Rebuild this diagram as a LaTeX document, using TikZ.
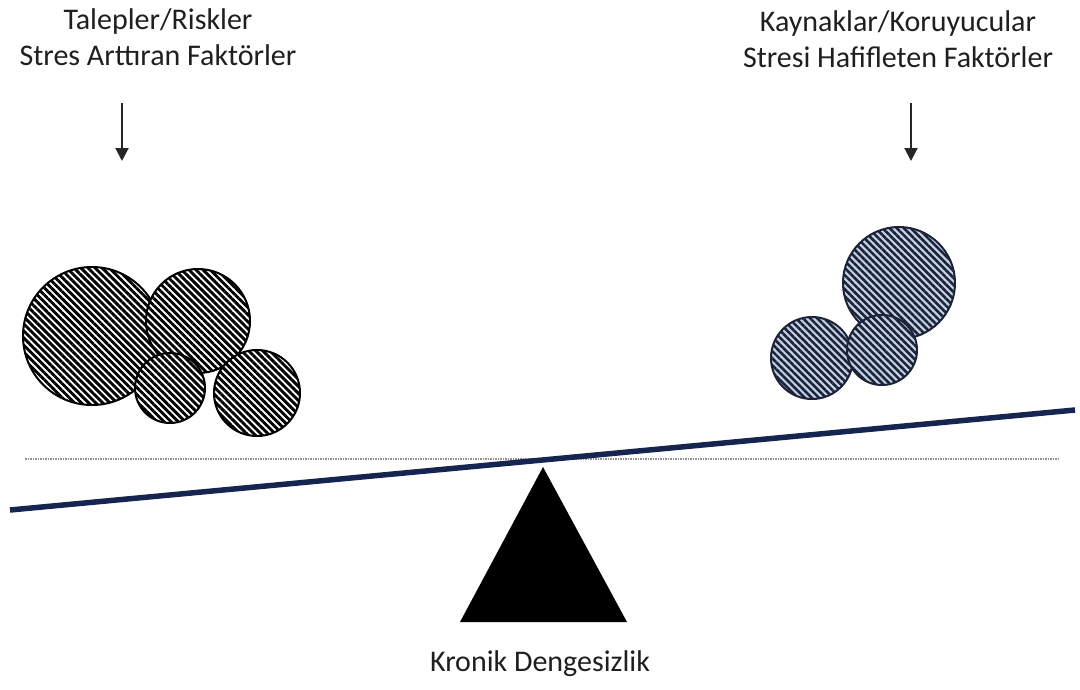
\documentclass[tikz,border=0pt]{standalone}
\usepackage{fontspec}
\setmainfont{Carlito}
\usetikzlibrary{patterns.meta,arrows.meta}
\definecolor{beamblue}{RGB}{22,36,80}
\definecolor{hatchnavy}{RGB}{28,34,55}
\definecolor{hatchbg}{RGB}{196,210,230}
\begin{document}
\begin{tikzpicture}[x=1pt,y=-1pt,
  label/.style={font=\fontsize{30}{35.5}\selectfont, align=center, text=black!88, inner sep=0pt},
  darkball/.style={draw=black, line width=2pt, preaction={fill=white},
    pattern={Lines[angle=-45,distance=5pt,line width=2.9pt]}, pattern color=black},
  lightball/.style={draw=hatchnavy, line width=2pt, preaction={fill=hatchbg},
    pattern={Lines[angle=-45,distance=5pt,line width=2.6pt]}, pattern color=hatchnavy},
  downarrow/.style={draw=black!85, line width=2pt, -{Triangle[length=13pt,width=13pt]}}]
\useasboundingbox (0,0) rectangle (1080,689);

% headings
\node[label] (demands) at (158,37) {Talepler/Riskler\\Stres Arttıran Faktörler};
\node[label] (resources) at (898,39) {Kaynaklar/Koruyucular\\Stresi Hafifleten Faktörler};

% arrows pointing down onto the loads
\coordinate (la1) at (122,103);
\coordinate (la2) at (122,161);
\coordinate (ra1) at (911,103);
\coordinate (ra2) at (911,161);
\draw[downarrow] (la1) -- (la2);
\draw[downarrow] (ra1) -- (ra2);

% stress load (left)
\draw[darkball] (92,336) circle (69);
\draw[darkball] (198,321) circle (52);
\draw[darkball] (170,388) circle (35);
\draw[darkball] (257,393) circle (43);

% protective load (right)
\draw[lightball] (899,283) circle (56);
\draw[lightball] (812,358) circle (41);
\draw[lightball] (882,350) circle (35);

% level reference line
\coordinate (lvl1) at (25,459);
\coordinate (lvl2) at (1060,459);
\draw[gray!85, line width=2.2pt, dash pattern=on 1.5pt off 1pt] (lvl1) -- (lvl2);

% tilted beam
\coordinate (b1) at (10,510);
\coordinate (b2) at (1075,410);
\draw[beamblue, line width=5.5pt] (b1) -- (b2);

% fulcrum
\coordinate (apex) at (543,467);
\coordinate (bl) at (460,622);
\coordinate (br) at (627,622);
\fill[black] (apex) -- (br) -- (bl) -- cycle;

\node[label] (imbalance) at (540,664) {Kronik Dengesizlik};
\end{tikzpicture}
\end{document}
